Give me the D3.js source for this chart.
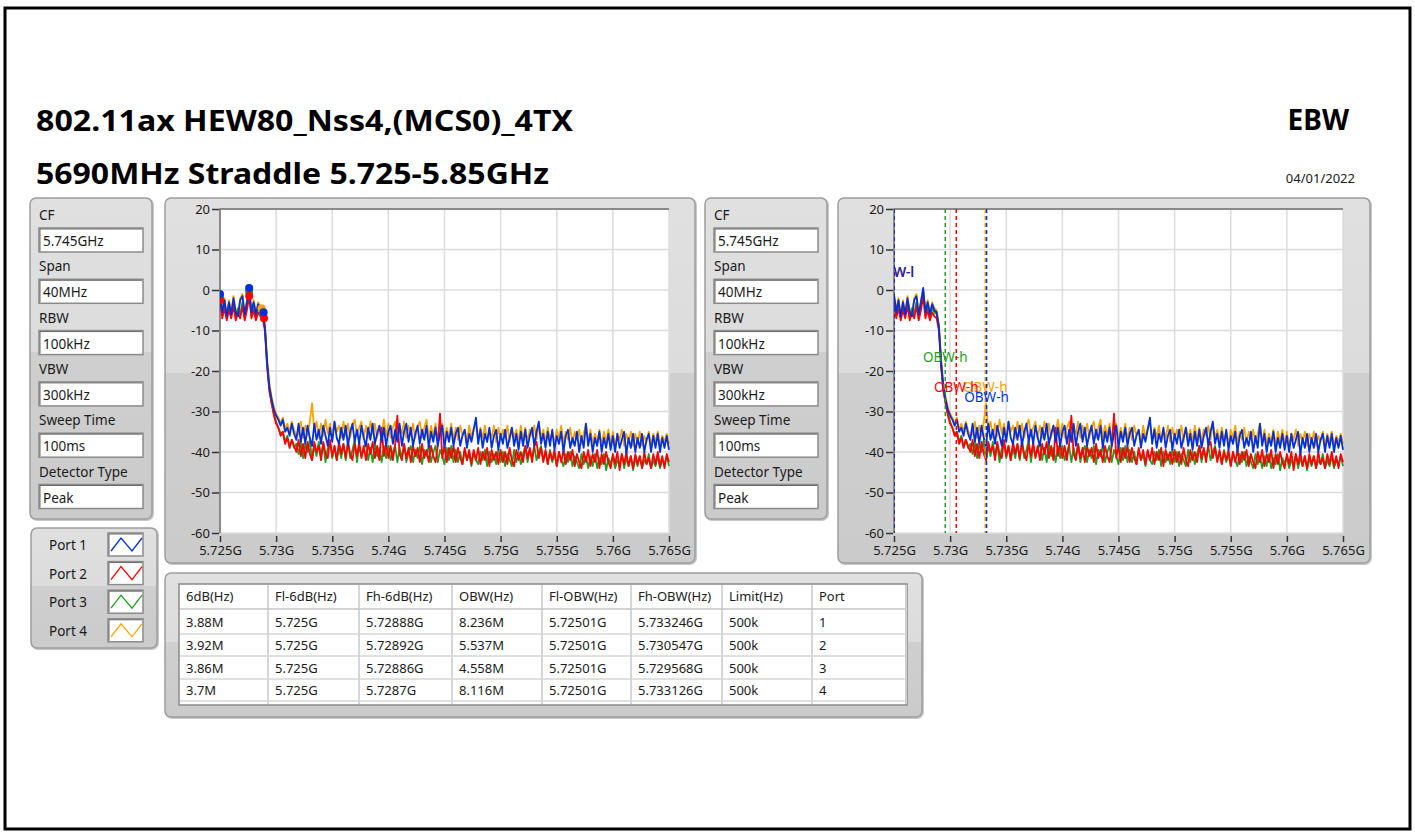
<!DOCTYPE html>
<html>
<head>
<meta charset="utf-8">
<script src="https://cdn.jsdelivr.net/npm/d3@7"></script>
<style>
  body { margin: 0; background: #fff; }
  svg text { font-family: "Segoe UI", "Noto Sans", sans-serif; fill: #1a1a1a; }
</style>
</head>
<body>
<svg id="chart" width="1415" height="833"></svg>
<script>
const titleLine1 = "802.11ax HEW80_Nss4,(MCS0)_4TX";
const titleLine2 = "5690MHz Straddle 5.725-5.85GHz";
const titleRight = "EBW";
const testDate = "04/01/2022";

const settingLabels = ["CF", "Span", "RBW", "VBW", "Sweep Time", "Detector Type"];
const settingValues = ["5.745GHz", "40MHz", "100kHz", "300kHz", "100ms", "Peak"];

const ports = ["Port 1", "Port 2", "Port 3", "Port 4"];

const yTicks = [20, 10, 0, -10, -20, -30, -40, -50, -60];
const xTicks = [5.725, 5.73, 5.735, 5.74, 5.745, 5.75, 5.755, 5.76, 5.765];
const xTickLabels = ["5.725G", "5.73G", "5.735G", "5.74G", "5.745G", "5.75G", "5.755G", "5.76G", "5.765G"];

// sweep: 201 points, 5.725 GHz .. 5.765 GHz
const sweepStart = 5.725, sweepStep = 0.0002;

// trace levels (dBm) per port
const levelPort1 = [
  -1, -5.5, -2.5, -6.5, -3, -6, -2, -5.5, -6.5, -2.5,
  -1.5, -6, -3, 0.5, -5.5, -3, -6, -3.5, -5,
  -5.5, -9, -18, -24, -27, -29.5, -31, -32, -33.5, -32, -35, -34, -36, -33, -35.5, -37,
  -33, -37.5, -34, -38, -33.5, -36.5, -38.5, -33, -37, -34.5,
  -38, -33.5, -36, -38.5, -34, -37.5, -32.5, -36.5, -38, -34,
  -37, -33.5, -38.5, -35, -33, -37.5, -34.5, -38, -33.5, -36.5,
  -38.5, -34, -37, -33, -38, -35.5, -33.5, -37.5, -34, -38.5,
  -35, -33.5, -38, -34.5, -37.5, -33, -38.5, -35, -33, -37.5,
  -34, -38.5, -35.5, -33.5, -38, -34.5, -37, -33.5, -39, -35,
  -37.5, -34, -38.5, -35.5, -33.5, -39, -35, -37.5, -34, -38.5,
  -35.5, -34, -38.5, -36, -34.5, -39, -35.5, -37.5, -34.5, -31.5,
  -38, -34.5, -39, -35.5, -37.5, -34, -39, -36, -34.5, -39.5,
  -35.5, -38, -34.5, -39, -36.5, -34, -38.5, -35.5, -39.5, -35,
  -38.5, -34.5, -39, -36, -34, -38.5, -35, -32.5, -38, -35.5,
  -39, -35, -38.5, -34.5, -39.5, -36, -38, -35, -40, -36,
  -34.5, -39, -36.5, -38.5, -35, -40, -36, -39, -33, -38.5,
  -35.5, -40, -36.5, -38.5, -35, -40, -36.5, -39, -35.5, -39.5,
  -36, -40, -35.5, -39, -37, -35, -40.5, -36.5, -39, -35.5,
  -40, -36.5, -39, -35.5, -40, -37, -35.5, -40, -36, -39,
  -35.5, -40, -36.5, -39, -36, -39.5
];
const levelPort2 = [
  -2.5, -7, -4.5, -7.5, -5, -7, -4, -7.5, -5.5, -7,
  -4, -7.5, -5, -1.5, -7, -5, -7.5, -5.5, -6.5,
  -7, -10, -19, -25, -28, -31, -33, -34, -36, -35, -38, -36.5, -39, -37, -38.5, -40,
  -37, -41, -38, -41.5, -37.5, -40.5, -42, -37.5, -40, -38.5,
  -42, -37.5, -40.5, -41.5, -37, -41, -38.5, -42, -37.5, -40.5,
  -38, -41.5, -37.5, -40.5, -42, -38, -41, -37.5, -41.5, -38.5,
  -42, -38, -40.5, -37.5, -41.5, -38.5, -42, -34, -41, -38,
  -41.5, -38.5, -42, -38, -31, -40.5, -42, -38, -41.5, -39,
  -42.5, -38.5, -41, -39, -42.5, -38, -41.5, -39.5, -42.5, -38.5,
  -41, -42.5, -38.5, -30.5, -41.5, -38.5, -42.5, -39, -41.5, -38.5,
  -42.5, -39, -41.5, -43, -39, -42, -39.5, -43, -39.5, -42,
  -39, -43, -40, -42, -39, -43.5, -39.5, -42, -40, -43,
  -39.5, -42.5, -40, -43, -39, -42, -43.5, -39.5, -42, -40,
  -42.5, -38.5, -41.5, -39, -42.5, -38.5, -37.5, -41.5, -39, -42.5,
  -39.5, -43, -40, -42, -39.5, -43.5, -40, -42.5, -39.5, -43,
  -40, -42, -39.5, -43.5, -40.5, -42.5, -44, -40, -42.5, -39.5,
  -43.5, -40.5, -42.5, -39.5, -44, -40.5, -43, -40, -42.5, -44,
  -40.5, -43, -40, -44.5, -40.5, -43, -40, -43.5, -41, -44,
  -40.5, -43, -41, -44, -40, -43, -41.5, -44, -40.5, -43,
  -40, -43.5, -41, -44, -40.5, -42.5
];
const levelPort3 = [
  -2, -6, -3.5, -6.5, -4, -6, -3, -6.5, -4.5, -6,
  -3, -6.5, -4, -0.5, -6, -4, -6.5, -4.5, -5.5,
  -6, -9.5, -18.5, -24.5, -28, -30.5, -32.5, -34, -35.5, -35, -37.5, -36, -38.5, -37, -39, -38,
  -40.5, -37.5, -41.5, -38, -40, -37, -42, -38.5, -41, -37.5,
  -41, -38, -42.5, -39, -37.5, -41.5, -38.5, -42, -39, -41.5,
  -38, -42, -37.5, -41.5, -39.5, -37, -42.5, -38.5, -41, -39.5,
  -37.5, -42, -39, -42.5, -38, -41, -39, -42.5, -38.5, -41.5,
  -38.5, -42, -40, -38.5, -42.5, -39, -41.5, -38, -42.5, -40,
  -38.5, -42.5, -39.5, -41.5, -38.5, -43, -39.5, -41, -38.5, -42.5,
  -40, -38.5, -42.5, -39.5, -41, -43, -39, -42, -38.5, -42.5,
  -39.5, -42.5, -40, -43, -39.5, -42, -40.5, -43.5, -40, -42,
  -43, -40, -42, -39.5, -43.5, -40, -42.5, -40.5, -43, -39.5,
  -42.5, -40, -43.5, -40.5, -42, -43.5, -39.5, -42.5, -40, -43,
  -40.5, -38.5, -42.5, -39.5, -41.5, -38.5, -42, -40, -38.5, -42,
  -40, -43, -39.5, -42.5, -40.5, -43.5, -40, -42, -43.5, -40.5,
  -42.5, -40, -43.5, -41, -42.5, -44, -40.5, -43, -41, -44,
  -41, -43.5, -40.5, -44, -41.5, -43, -40.5, -44.5, -41.5, -43,
  -41, -44, -42, -43, -40.5, -44, -41.5, -43.5, -41, -44.5,
  -41.5, -43.5, -41, -44, -42, -43, -40.5, -44, -42, -43.5,
  -41, -44, -42, -43, -41, -43.5
];
const levelPort4 = [
  -1.5, -5, -2, -6, -2.5, -5.5, -1.5, -5, -6, -2,
  -1, -5.5, -2.5, 0, -5, -2.5, -5.5, -3, -4.5,
  -5, -8.5, -17, -23, -26.5, -29, -30.5, -31.5, -33, -31.5, -34.5, -33, -35, -32.5, -34.5, -36,
  -35.5, -32.5, -36.5, -33.5, -36, -32.5, -28, -35, -32.5, -36.5,
  -33, -36, -32, -35.5, -33, -36.5, -32.5, -35, -33.5, -36.5,
  -32.5, -36, -33, -36.5, -33.5, -32, -36, -34, -32.5, -36.5,
  -33.5, -36.5, -32.5, -35.5, -33, -36.5, -33.5, -35.5, -32, -36,
  -33, -36.5, -34, -32.5, -36.5, -33.5, -35.5, -32.5, -36.5, -33.5,
  -36, -33, -36.5, -34, -32.5, -36.5, -34, -32, -36.5, -33.5,
  -36, -33, -37, -34.5, -33, -37, -34, -36.5, -33, -37,
  -34, -37, -33.5, -36, -34.5, -37.5, -33.5, -36.5, -34, -33,
  -37, -34, -36.5, -33.5, -37.5, -34.5, -36.5, -33.5, -37.5, -34,
  -37, -34.5, -36.5, -33.5, -37.5, -34, -36.5, -34.5, -37.5, -33.5,
  -37, -34, -37.5, -34.5, -36, -33.5, -37, -33, -36.5, -34.5,
  -37.5, -34, -37, -35, -38, -34.5, -36.5, -33.5, -38, -35,
  -37, -34, -38, -35, -37, -34.5, -38, -35.5, -33, -37.5,
  -34.5, -38, -35.5, -37.5, -34.5, -38.5, -35, -37.5, -34.5, -38,
  -35, -38.5, -35.5, -37, -34.5, -38.5, -35.5, -37.5, -35, -38.5,
  -35.5, -38, -35, -38.5, -36, -37.5, -35, -38.5, -35.5, -37.5,
  -35, -38.5, -36, -37.5, -35.5, -38
];
const levels = [levelPort1, levelPort2, levelPort3, levelPort4];

// result table columns
const tableHeaders = ["6dB(Hz)", "Fl-6dB(Hz)", "Fh-6dB(Hz)", "OBW(Hz)", "Fl-OBW(Hz)", "Fh-OBW(Hz)", "Limit(Hz)", "Port"];
const bw6dB = [3.88, 3.92, 3.86, 3.7];                 // MHz
const fl6dB = [5.725, 5.725, 5.725, 5.725];            // GHz
const fh6dB = [5.72888, 5.72892, 5.72886, 5.7287];     // GHz
const obw = [8.236, 5.537, 4.558, 8.116];              // MHz
const flObw = [5.72501, 5.72501, 5.72501, 5.72501];    // GHz
const fhObw = [5.733246, 5.730547, 5.729568, 5.733126];// GHz
const limit = ["500k", "500k", "500k", "500k"];
const portNo = [1, 2, 3, 4];

// markers on the left graph (peak) and cursor label levels on the right graph
const peakFreq = [5.7276, 5.7276, 5.7276, 5.7276];
const obwLowLabelLevel = [4.5, 4.5, 4.5, 4.5];
const obwHighLabelLevel = [-26.4, -24, -16.5, -24];

// ---- style ----
const portColors = ["#0030dc", "#ff0000", "#1f9e1f", "#ffa200"];
const drawOrder = [3, 2, 1, 0];
const plotTop = 209, plotBottom = 533, plotW = 449;

const svg = d3.select("#chart");
const defs = svg.append("defs");
const grad = defs.append("linearGradient").attr("id", "panelFill")
  .attr("x1", 0).attr("y1", 0).attr("x2", 0).attr("y2", 1);
[[0, "#e0e0e0"], [0.48, "#dcdcdc"], [0.48, "#cfcfcf"], [1, "#cbcbcb"]]
  .forEach(([o, c]) => grad.append("stop").attr("offset", o).attr("stop-color", c));

// outer frame
svg.append("rect").attr("x", 5).attr("y", 8).attr("width", 1405).attr("height", 821)
  .attr("fill", "#fff").attr("stroke", "#000").attr("stroke-width", 3);

// titles
svg.append("text").attr("x", 36).attr("y", 131).attr("font-size", 28).attr("font-weight", "bold")
  .attr("textLength", 537).attr("lengthAdjust", "spacingAndGlyphs").style("fill", "#000").text(titleLine1);
svg.append("text").attr("x", 36).attr("y", 184).attr("font-size", 28).attr("font-weight", "bold")
  .attr("textLength", 513).attr("lengthAdjust", "spacingAndGlyphs").style("fill", "#000").text(titleLine2);
svg.append("text").attr("x", 1349).attr("y", 130).attr("font-size", 28).attr("font-weight", "bold")
  .attr("text-anchor", "end").style("fill", "#000").text(titleRight);
svg.append("text").attr("x", 1355).attr("y", 183).attr("font-size", 13)
  .attr("text-anchor", "end").text(testDate);

function panel(x, y, w, h) {
  svg.append("rect").attr("x", x + 1).attr("y", y + 1).attr("width", w).attr("height", h).attr("rx", 6)
    .attr("fill", "none").attr("stroke", "#c8c8c8").attr("stroke-width", 2);
  svg.append("rect").attr("x", x).attr("y", y).attr("width", w).attr("height", h).attr("rx", 6)
    .attr("fill", "url(#panelFill)").attr("stroke", "#9d9d9d").attr("stroke-width", 1.5);
}

function inputBox(x, y, w, h) {
  svg.append("rect").attr("x", x).attr("y", y).attr("width", w).attr("height", h)
    .attr("fill", "#fff").attr("stroke", "#8a8a8a").attr("stroke-width", 1.5);
  svg.append("path").attr("d", `M${x + 1},${y + h - 1}V${y + 1}H${x + w - 1}`)
    .attr("fill", "none").attr("stroke", "#6a6a6a").attr("stroke-width", 1);
}

// ---- settings panels ----
function settingsPanel(px) {
  panel(px, 198, 122, 321);
  settingLabels.forEach((lab, i) => {
    const top = 198 + i * 51.3;
    svg.append("text").attr("x", px + 9).attr("y", top + 22).attr("font-size", 13.5).text(lab);
    inputBox(px + 9, top + 30, 104, 24);
    svg.append("text").attr("x", px + 13).attr("y", top + 48).attr("font-size", 13.5).text(settingValues[i]);
  });
}
settingsPanel(30);
settingsPanel(705);

// ---- legend ----
panel(31, 528, 126, 120);
ports.forEach((p, i) => {
  const cy = 545 + i * 28.6;
  svg.append("text").attr("x", 49).attr("y", cy + 5).attr("font-size", 13.5).text(p);
  inputBox(108, cy - 12, 35, 23);
  svg.append("path").attr("d", `M111,${cy + 6}L121,${cy - 7}L132,${cy + 6}L142,${cy - 7}`)
    .attr("fill", "none").attr("stroke", portColors[i]).attr("stroke-width", 1.3);
});

// ---- spectrum graphs ----
function drawSpectrum(x0, withDots, withCursors) {
  const x = d3.scaleLinear().domain([xTicks[0], xTicks[xTicks.length - 1]]).range([x0, x0 + plotW]);
  const y = d3.scaleLinear().domain([-60, 20]).range([plotBottom, plotTop]);
  const g = svg.append("g");

  g.append("rect").attr("x", x0).attr("y", plotTop).attr("width", plotW).attr("height", plotBottom - plotTop)
    .attr("fill", "#fff");

  // grid
  g.append("g").selectAll("line").data(xTicks).join("line")
    .attr("x1", d => x(d)).attr("x2", d => x(d)).attr("y1", plotTop).attr("y2", plotBottom)
    .attr("stroke", "#dcdcdc").attr("stroke-width", 1.5);
  g.append("g").selectAll("line").data(yTicks).join("line")
    .attr("x1", x0).attr("x2", x0 + plotW).attr("y1", d => y(d)).attr("y2", d => y(d))
    .attr("stroke", "#dcdcdc").attr("stroke-width", 1.5);

  // plot border (top / left darker)
  g.append("path").attr("d", `M${x0},${plotBottom}V${plotTop}H${x0 + plotW}`)
    .attr("fill", "none").attr("stroke", "#6e6e6e").attr("stroke-width", 1.5);

  // axes
  const yAxis = g.append("g").attr("transform", `translate(${x0 - 1},0)`)
    .call(d3.axisLeft(y).tickValues(yTicks).tickSize(7).tickPadding(2).tickFormat(d => String(d)));
  const xAxis = g.append("g").attr("transform", `translate(0,${plotBottom + 3})`)
    .call(d3.axisBottom(x).tickValues(xTicks).tickSize(6).tickPadding(4).tickFormat((d, i) => xTickLabels[i]));
  [yAxis, xAxis].forEach(a => {
    a.select(".domain").remove();
    a.selectAll(".tick line").attr("stroke", "#333").attr("stroke-width", 1.5);
    a.selectAll(".tick text").attr("font-size", 13).attr("font-family", null).style("fill", "#1a1a1a");
  });

  // traces
  const clipId = "clip" + x0;
  defs.append("clipPath").attr("id", clipId).append("rect")
    .attr("x", x0).attr("y", plotTop).attr("width", plotW + 1).attr("height", plotBottom - plotTop);
  const line = d3.line().x((d, i) => x(sweepStart + i * sweepStep)).y(d => y(d));
  const traces = g.append("g").attr("clip-path", `url(#${clipId})`);
  drawOrder.forEach(p => {
    traces.append("path").attr("d", line(levels[p])).attr("fill", "none")
      .attr("stroke", portColors[p]).attr("stroke-width", 1.8).attr("stroke-linejoin", "round");
  });

  const levelAt = (p, f) => levels[p][Math.floor((f - sweepStart) / sweepStep + 1e-6)];

  if (withDots) {
    drawOrder.forEach(p => {
      [fl6dB[p], peakFreq[p], fh6dB[p]].forEach(f => {
        traces.append("circle").attr("cx", x(f)).attr("cy", y(levelAt(p, f))).attr("r", 4)
          .attr("fill", portColors[p]);
      });
    });
  }

  if (withCursors) {
    drawOrder.forEach(p => {
      [flObw[p], fhObw[p]].forEach(f => {
        traces.append("line").attr("x1", x(f)).attr("x2", x(f)).attr("y1", plotTop).attr("y2", plotBottom)
          .attr("stroke", portColors[p]).attr("stroke-width", 1.5).attr("stroke-dasharray", "4,3");
      });
      traces.append("text").attr("x", x(flObw[p])).attr("y", y(obwLowLabelLevel[p]))
        .attr("dy", "0.35em").attr("text-anchor", "middle").attr("font-size", 13.5)
        .style("fill", portColors[p]).text("OBW-l");
      traces.append("text").attr("x", x(fhObw[p])).attr("y", y(obwHighLabelLevel[p]))
        .attr("dy", "0.35em").attr("text-anchor", "middle").attr("font-size", 13.5)
        .style("fill", portColors[p]).text("OBW-h");
    });
  }
}

panel(165, 198, 530, 365);
drawSpectrum(220, true, false);
panel(838, 198, 532, 365);
drawSpectrum(894, false, true);

// ---- result table ----
panel(165, 573, 757, 144);
const colEdges = [179, 268, 359, 452, 542, 631, 722, 812, 905];
const rowEdges = [584, 609, 634, 656, 679, 701, 705];
svg.append("rect").attr("x", 179).attr("y", 584).attr("width", 728).attr("height", 121)
  .attr("fill", "#fff").attr("stroke", "#8a8a8a").attr("stroke-width", 1.5);
svg.append("g").selectAll("line").data(colEdges.slice(1, -1)).join("line")
  .attr("x1", d => d).attr("x2", d => d).attr("y1", 585).attr("y2", 704)
  .attr("stroke", "#d6d6d6").attr("stroke-width", 2);
svg.append("g").selectAll("line").data(rowEdges.slice(1, -1)).join("line")
  .attr("x1", 180).attr("x2", 906).attr("y1", d => d).attr("y2", d => d)
  .attr("stroke", (d, i) => i === 0 ? "#c4c4c4" : "#d6d6d6").attr("stroke-width", 1.5);
svg.append("rect").attr("x", 905).attr("y", 585).attr("width", 2).attr("height", 119).attr("fill", "#d0d0d0");

const tableRows = portNo.map((_, i) => [
  bw6dB[i] + "M", fl6dB[i] + "G", fh6dB[i] + "G", obw[i] + "M",
  flObw[i] + "G", fhObw[i] + "G", limit[i], String(portNo[i])
]);
svg.append("g").selectAll("text").data(tableHeaders).join("text")
  .attr("x", (d, i) => colEdges[i] + 7).attr("y", 601).attr("font-size", 13).text(d => d);
tableRows.forEach((row, r) => {
  svg.append("g").selectAll("text").data(row).join("text")
    .attr("x", (d, i) => colEdges[i] + 7)
    .attr("y", (rowEdges[r + 1] + rowEdges[r + 2]) / 2 + 5)
    .attr("font-size", 13).text(d => d);
});
</script>
</body>
</html>
